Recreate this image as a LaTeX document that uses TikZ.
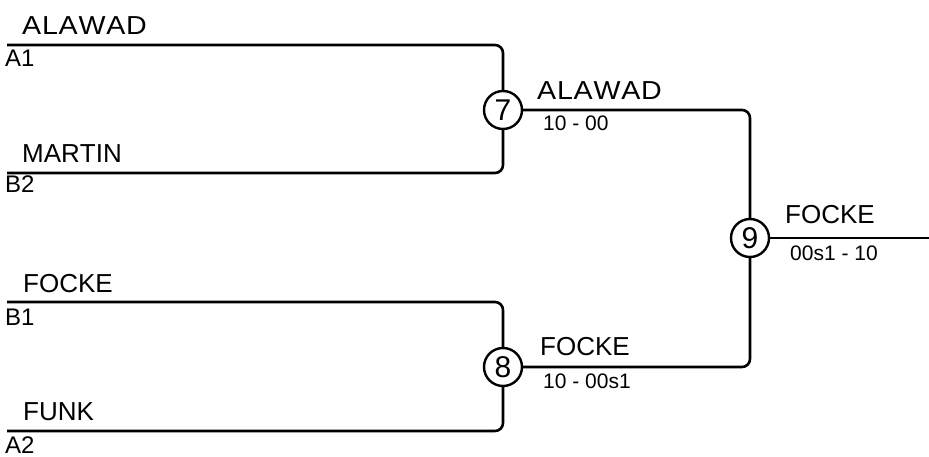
\documentclass[tikz,border=0pt]{standalone}
\usepackage{fontspec}
\setmainfont{Liberation Sans}[Kerning=Off]
\begin{document}
\begin{tikzpicture}[x=1pt,y=-1pt,
  line/.style={line width=2.6pt, rounded corners=8pt},
  match/.style={circle, draw, line width=2.4pt, minimum size=38pt, inner sep=0pt, font=\fontsize{30}{32}\selectfont},
  player/.style={anchor=base west, inner sep=0pt, font=\fontsize{26}{30}\selectfont},
  wide/.style={font=\fontsize{26}{30}\selectfont\addfontfeature{FakeStretch=1.1,LetterSpace=3}},
  seed/.style={anchor=base west, inner sep=0pt, font=\fontsize{24}{26}\selectfont},
  score/.style={anchor=base west, inner sep=0pt, font=\fontsize{21}{24}\selectfont}]
\useasboundingbox (0,0) rectangle (929,457);
% match circles
\node[match] (m7) at (503,110) {7};
\node[match] (m8) at (503,367) {8};
\node[match] (m9) at (750,238) {9};
% free ends
\coordinate (pA1) at (7,45);
\coordinate (pB2) at (7,173);
\coordinate (pB1) at (7,302);
\coordinate (pA2) at (7,431);
\coordinate (fin) at (929,238);
% first round
\draw[line] (pA1) -| (m7.north);
\draw[line] (pB2) -| (m7.south);
\draw[line] (pB1) -| (m8.north);
\draw[line] (pA2) -| (m8.south);
% second round
\draw[line] (m7.east) -| (m9.north);
\draw[line] (m8.east) -| (m9.south);
\draw[line] (m9.east) -- (fin);
% labels
\node[player,wide] (nA1) at (22,35) {ALAWAD};
\node[seed] (sA1) at (5,67) {A1};
\node[player] (nB2) at (22,163) {MARTIN};
\node[seed] (sB2) at (5,193) {B2};
\node[player] (nB1) at (23,292) {FOCKE};
\node[seed] (sB1) at (5,325) {B1};
\node[player] (nA2) at (23,420) {FUNK};
\node[seed] (sA2) at (5,453) {A2};
\node[player,wide] (w7) at (537,100) {ALAWAD};
\node[score] (r7) at (543,131) {10 - 00};
\node[player] (w8) at (540,355) {FOCKE};
\node[score] (r8) at (543,388) {10 - 00s1};
\node[player] (w9) at (785,224) {FOCKE};
\node[score] (r9) at (790,260) {00s1 - 10};
\end{tikzpicture}
\end{document}
